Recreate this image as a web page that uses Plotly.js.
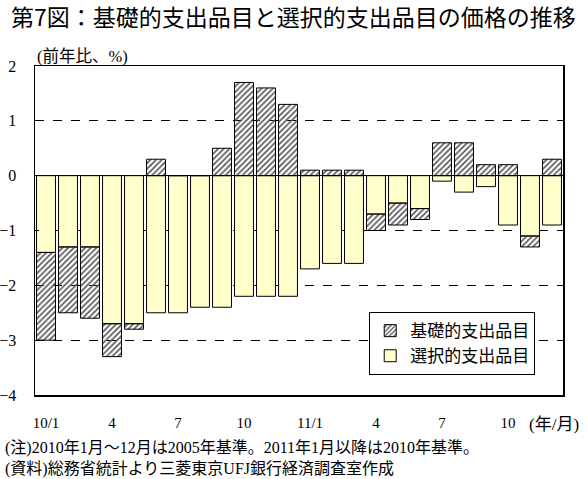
<!DOCTYPE html>
<html><head><meta charset="utf-8">
<script src="https://cdn.plot.ly/plotly-3.0.1.min.js"></script>
<style>html,body{margin:0;padding:0;background:#fff}#c{width:587px;height:479px}</style>
</head><body><div id="c"></div>
<script>
const months = ['10/1','10/2','10/3','10/4','10/5','10/6','10/7','10/8','10/9','10/10','10/11','10/12',
                '11/1','11/2','11/3','11/4','11/5','11/6','11/7','11/8','11/9','11/10','11/11','11/12'];
const selective = [-1.4,-1.3,-1.3,-2.7,-2.7,-2.5,-2.5,-2.4,-2.4,-2.2,-2.2,-2.2,
                   -1.7,-1.6,-1.6,-0.7,-0.5,-0.6,-0.1,-0.3,-0.2,-0.9,-1.1,-0.9];
const basic = [-1.6,-1.2,-1.3,-0.6,-0.1,0.3,0.0,0.0,0.5,1.7,1.6,1.3,
               0.1,0.1,0.1,-0.3,-0.4,-0.2,0.6,0.6,0.2,0.2,-0.2,0.3];
const tickVals = ['10/1','10/4','10/7','10/10','11/1','11/4','11/7','11/10'];
const tickText = ['10/1','4','7','10','11/1','4','7','10'];
const seriesNames = ['選択的支出品目','基礎的支出品目'];
const notes = ['(注)2010年1月～12月は2005年基準。2011年1月以降は2010年基準。',
               '(資料)総務省統計より三菱東京UFJ銀行経済調査室作成'];

const serif = 'Liberation Serif, Noto Sans CJK JP, serif';
const jp = 'Noto Sans CJK JP, sans-serif';

// quarter boundaries (every 3 months) for the small ticks on the zero line
const boundaryTicks = tickVals.map(v => months.indexOf(v) - 0.5);

const traces = [
  {type:'bar', x:months, y:selective, name:seriesNames[0], legendrank:2,
   marker:{color:'#FFFFCC', line:{color:'#000', width:1}}, hoverinfo:'skip'},
  {type:'bar', x:months, y:basic, name:seriesNames[1], legendrank:1,
   marker:{color:'#d8d8d8', line:{color:'#000', width:1},
           pattern:{shape:'/', fgcolor:'#555', size:4, solidity:0.4}}, hoverinfo:'skip'}
];

const layout = {
  width:587, height:479,
  margin:{l:35, r:24, t:66, b:84},
  paper_bgcolor:'#fff', plot_bgcolor:'#fff',
  barmode:'relative', bargap:0.14,
  title:{text:'第7図：基礎的支出品目と選択的支出品目の価格の推移', x:0.5, xanchor:'center', y:0.962, yanchor:'middle',
         font:{family:jp, size:23, color:'#000'}},
  xaxis:{type:'category', categoryorder:'array', categoryarray:months,
         tickmode:'array', tickvals:tickVals, ticktext:tickText,
         ticks:'', ticklabelstandoff:13, tickfont:{family:serif, size:15, color:'#000'},
         showline:true, linecolor:'#000', linewidth:1.5, mirror:true, showgrid:false, zeroline:false},
  xaxis2:{type:'linear', overlaying:'x', anchor:'free', position:4/6,
          range:[-0.5, months.length - 0.5], tickmode:'array', tickvals:boundaryTicks,
          ticks:'outside', ticklen:4, tickcolor:'#000', showticklabels:false,
          showline:false, showgrid:false, zeroline:false},
  yaxis:{range:[-4,2], dtick:1, tickmode:'linear', ticks:'inside', ticklen:4, tickcolor:'#000',
         ticklabelstandoff:14, tickfont:{family:serif, size:16, color:'#000'},
         showline:true, linecolor:'#000', linewidth:1.5, mirror:true,
         showgrid:true, gridcolor:'#000', griddash:'dash', gridwidth:1,
         zeroline:true, zerolinecolor:'#000', zerolinewidth:1.5},
  legend:{x:0.633, y:0.252, xanchor:'left', yanchor:'top', bgcolor:'#fff',
          bordercolor:'#000', borderwidth:1, traceorder:'normal', tracegroupgap:8,
          font:{family:jp, size:17, color:'#000'}},
  showlegend:true,
  annotations:[
    {text:'(前年比、%)', xref:'paper', yref:'paper', x:0, y:1, xanchor:'left', yanchor:'bottom', yshift:-2, xshift:0,
     showarrow:false, font:{family:serif, size:16.5, color:'#000'}},
    {text:'(年/月)', xref:'paper', yref:'paper', x:1, y:0, xanchor:'left', yanchor:'top', xshift:-36, yshift:-18,
     showarrow:false, font:{family:serif, size:17, color:'#000'}},
    {text:notes.join('<br>'), xref:'paper', yref:'paper', x:0, y:0,
     xanchor:'left', yanchor:'top', xshift:-32, yshift:-42, showarrow:false, align:'left',
     font:{family:serif, size:16, color:'#000'}}
  ]
};
Plotly.newPlot('c', traces, layout, {staticPlot:true, displayModeBar:false});
</script></body></html>
